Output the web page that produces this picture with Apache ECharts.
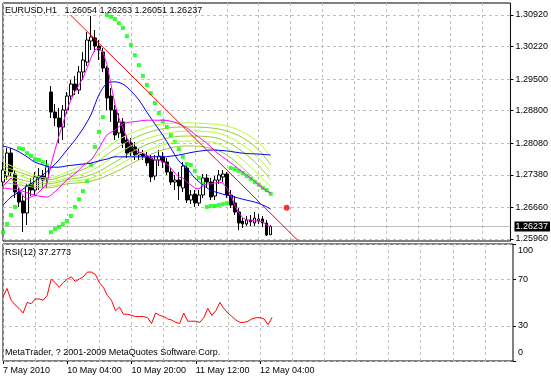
<!DOCTYPE html>
<html>
<head>
<meta charset="utf-8">
<script src="https://cdn.jsdelivr.net/npm/echarts@6/dist/echarts.min.js"></script>
<style>
  html, body { margin: 0; padding: 0; background: #fff; }
  #chart { width: 551px; height: 378px; }
</style>
</head>
<body>
<div id="chart"></div>
<script>
// EURUSD H1, 7 May 12:00 .. 12 May 07:00 (2010)
const symbolName = 'EURUSD,H1';
const lastOhlc = ['1.26054', '1.26263', '1.26051', '1.26237'];
const slotCount = 128; // bars + right-side shift
const timeLabels = ['7 May 2010', '10 May 04:00', '10 May 20:00', '11 May 12:00', '12 May 04:00'];
const priceTicks = ['1.25960', '1.26660', '1.27380', '1.28080', '1.28800', '1.29500', '1.30220', '1.30920'];
const rsiTicks = [0, 30, 70, 100];
const bidPrice = 1.26237;
const rsiTitle = 'RSI(12) 37.2773';
const copyright = 'MetaTrader, ? 2001-2009 MetaQuotes Software Corp.';

// open, close, low, high
const candles = [
  [1.27222,1.27488,1.27133,1.27665],[1.27355,1.27864,1.27266,1.27975],[1.27864,1.27443,1.27333,1.27975],
  [1.27399,1.27001,1.26868,1.27488],[1.27001,1.26779,1.26668,1.27089],[1.26801,1.26536,1.26115,1.26934],
  [1.26536,1.27133,1.26270,1.27178],[1.27178,1.27045,1.26912,1.27311],[1.27045,1.27333,1.26912,1.27443],
  [1.27311,1.27355,1.27045,1.27532],[1.27355,1.27266,1.27089,1.27488],[1.27311,1.27576,1.27089,1.27709],
  [1.29215,1.28772,1.28639,1.29348],[1.28772,1.28639,1.28462,1.28949],[1.28639,1.28440,1.28086,1.28861],
  [1.28440,1.28816,1.28152,1.28927],[1.28816,1.29126,1.28728,1.29215],[1.29126,1.29392,1.29038,1.29481],
  [1.29392,1.29259,1.29148,1.29569],[1.29259,1.29658,1.29171,1.29791],[1.29658,1.29923,1.29481,1.30101],
  [1.29879,1.30366,1.29791,1.30543],[1.30344,1.30433,1.30145,1.30898],[1.30411,1.30233,1.30101,1.30588],
  [1.30233,1.30145,1.29923,1.30366],[1.30101,1.29746,1.29658,1.30189],[1.29746,1.29082,1.28816,1.29791],
  [1.29126,1.28816,1.28551,1.29303],[1.28816,1.28263,1.28152,1.28927],[1.28307,1.28551,1.28196,1.28750],
  [1.28551,1.28086,1.27975,1.28639],[1.28152,1.27864,1.27753,1.28263],[1.28086,1.27886,1.27798,1.28196],
  [1.27997,1.27820,1.27709,1.28108],[1.27820,1.27864,1.27709,1.27975],[1.27842,1.27798,1.27709,1.27931],
  [1.27798,1.27643,1.27576,1.27886],[1.27753,1.27333,1.27222,1.27820],[1.27355,1.27709,1.27266,1.27820],
  [1.27709,1.27798,1.27576,1.27931],[1.27775,1.27665,1.27532,1.27886],[1.27665,1.27443,1.27377,1.27753],
  [1.27443,1.27222,1.27156,1.27532],[1.27222,1.27266,1.27045,1.27377],[1.27266,1.27133,1.26823,1.27443],
  [1.27089,1.27576,1.27001,1.27665],[1.27532,1.26823,1.26757,1.27576],[1.26823,1.26934,1.26735,1.27045],
  [1.26956,1.26757,1.26668,1.27045],[1.26757,1.26934,1.26691,1.27045],[1.26934,1.27311,1.26868,1.27399],
  [1.27311,1.27222,1.27089,1.27399],[1.27222,1.26890,1.26823,1.27311],[1.26912,1.27266,1.26823,1.27355],
  [1.27266,1.27377,1.27178,1.27488],[1.27333,1.27399,1.27222,1.27488],[1.27399,1.26934,1.26868,1.27443],
  [1.26934,1.26713,1.26646,1.27045],[1.26757,1.26558,1.26491,1.26912],[1.26558,1.26314,1.26159,1.26646],
  [1.26358,1.26292,1.26203,1.26425],[1.26292,1.26381,1.26248,1.26469],[1.26381,1.26336,1.26248,1.26491],
  [1.26314,1.26425,1.26248,1.26558],[1.26358,1.26403,1.26292,1.26513],[1.26403,1.26314,1.26226,1.26469],
  [1.26314,1.26048,1.26026,1.26381],[1.26054,1.26237,1.26051,1.26263]
];

const psar = [
  1.2611,1.2629,1.2649,1.2667,1.2797,1.2795,1.2786,1.2780,1.2773,1.2771,1.2766,1.2758,
  1.2611,1.2618,1.2623,1.2629,1.2636,1.2647,1.2667,1.2684,1.2702,1.2724,1.2760,1.2800,1.2833,1.2866,
  1.3092,1.3088,1.3083,1.3074,1.3063,1.3045,1.3026,1.3003,1.2981,1.2957,1.2937,1.2919,1.2897,1.2875,
  1.2857,1.2844,1.2826,1.2811,1.2795,1.2778,1.2762,1.2760,1.2747,1.2731,1.2718,
  1.2667,1.2669,1.2669,1.2671,1.2673,1.2675,
  1.2753,1.2751,1.2747,1.2742,1.2735,1.2729,1.2722,1.2716,1.2709,1.2704,1.2696
];

const maFast = [
  1.2713,1.2722,1.2731,1.2722,1.2709,1.2691,1.2684,1.2689,1.2693,1.2700,1.2709,1.2718,
  1.2760,1.2793,1.2824,1.2851,1.2882,1.2904,1.2922,1.2937,1.2952,1.2974,1.2997,1.3015,1.3019,1.3010,
  1.2983,1.2939,1.2895,1.2864,1.2842,1.2820,1.2802,1.2793,1.2789,1.2786,1.2782,1.2775,1.2771,1.2771,
  1.2767,1.2762,1.2753,1.2742,1.2733,1.2731,1.2722,1.2716,1.2709,1.2707,1.2713,
  1.2718,1.2718,1.2720,1.2722,1.2720,1.2709,1.2693,1.2671,1.2654,1.2643,1.2638,1.2638,1.2636,1.2636,
  1.2634,1.2627,1.2623
];

// [bar, price]
const maSlowMagenta = [
  [0,1.2709],[4,1.2704],[8,1.2693],[11,1.2689],[12,1.2693],[14,1.2709],[16,1.2727],[18,1.2740],
  [20,1.2758],[22,1.2771],[24,1.2797],[26,1.2826],[28,1.2837],[30,1.2851],[32,1.2855],[34,1.2857],
  [36,1.2859],[40,1.2859],[42,1.2857],[44,1.2851],[46,1.2842],[48,1.2828],[50,1.2815],[52,1.2800],
  [54,1.2784],[56,1.2771],[58,1.2758],[60,1.2744],[62,1.2731],[64,1.2716],[66,1.2702],[67,1.2698]
];

const maBlueFast = [
  [0,1.2671],[2,1.2689],[4,1.2700],[6,1.2713],[8,1.2724],[10,1.2738],[12,1.2753],[14,1.2771],
  [16,1.2793],[18,1.2815],[20,1.2840],[22,1.2871],[24,1.2915],[26,1.2941],[28,1.2944],[30,1.2939],
  [32,1.2924],[34,1.2904],[36,1.2877],[38,1.2851],[40,1.2826],[42,1.2797],[44,1.2769],[46,1.2753],
  [48,1.2731],[50,1.2716],[52,1.2704],[54,1.2698],[56,1.2693],[58,1.2689],[60,1.2684],[62,1.2680],
  [64,1.2675],[66,1.2667],[67,1.2662]
];

const maBlueSlow = [
  [0,1.2802],[2,1.2797],[4,1.2789],[6,1.2778],[8,1.2766],[10,1.2760],[12,1.2755],[14,1.2755],
  [16,1.2758],[18,1.2760],[20,1.2762],[22,1.2764],[24,1.2769],[26,1.2773],[28,1.2778],[32,1.2778],
  [36,1.2778],[40,1.2778],[44,1.2782],[48,1.2789],[52,1.2793],[56,1.2791],[60,1.2786],[64,1.2784],
  [67,1.2782]
];

const greenBars = [0, 6, 11, 16, 22, 28, 34, 40, 46, 52, 56, 60, 64, 67];
const green1 = [1.2766,1.2744,1.2731,1.2744,1.2771,1.2811,1.2837,1.2851,1.2853,1.2851,1.2846,1.2833,1.2809,1.2778];
const green2 = [1.2758,1.2738,1.2727,1.2738,1.2758,1.2795,1.2824,1.2840,1.2844,1.2842,1.2835,1.2820,1.2793,1.2760];
const green3 = [1.2749,1.2731,1.2722,1.2731,1.2747,1.2780,1.2811,1.2828,1.2835,1.2833,1.2824,1.2804,1.2775,1.2744];
const green4 = [1.2740,1.2724,1.2718,1.2727,1.2738,1.2766,1.2797,1.2817,1.2824,1.2822,1.2811,1.2789,1.2758,1.2727];
const green5 = [1.2731,1.2718,1.2713,1.2722,1.2731,1.2755,1.2784,1.2804,1.2813,1.2811,1.2797,1.2771,1.2738,1.2711];
const green6 = [1.2722,1.2713,1.2709,1.2718,1.2724,1.2744,1.2771,1.2793,1.2802,1.2797,1.2782,1.2753,1.2720,1.2698];

const trendBars = [17, 74];
const trendPrices = [1.3091, 1.2591];
const signalDot = [71, 1.2665];

const rsi = [
  55,62,52,48,45,41,50,49,53,53,52,56,
  70,67,63,67,70,72,68,70,72,76,76,74,67,63,
  56,52,43,46,40,40,39,38,38,38,37,32,41,39,38,36,35,33,32,41,34,34,34,33,37,
  45,39,43,50,45,41,38,35,33,33,34,36,37,37,36,31,37.2773
];

const FONT = '"Liberation Sans", Arial, sans-serif';
const GRID_LINE = { color: '#C0C0C0', type: [3, 3], width: 1 };
const categories = Array.from({ length: slotCount }, (_, i) => i);
const priceTickValues = priceTicks.map(Number);
const pxPrice = (1.30920 - 1.25960) / 224;
const yMin = 1.25960 - 2 * pxPrice;
const yMax = yMin + 238 * pxPrice;

const labelEvery16 = (i) => i % 16 === 0 && i / 16 < timeLabels.length;
const greenColors = ['#ADFF2F', '#9ACD32', '#ADFF2F', '#9ACD32', '#ADFF2F', '#9ACD32'];
const greens = [green1, green2, green3, green4, green5, green6];

const chart = echarts.init(document.getElementById('chart'), null, { renderer: 'canvas' });

const lineSeries = (name, data, color, extra) => Object.assign({
  name, type: 'line', data, xAxisIndex: 0, yAxisIndex: 0,
  symbol: 'none', silent: true,
  lineStyle: { color, width: 1 }, itemStyle: { color }
}, extra || {});

const option = {
  animation: false,
  backgroundColor: '#fff',
  textStyle: { fontFamily: FONT },
  title: [
    { text: symbolName + '   ' + lastOhlc.join(' '), left: 5, top: 6, padding: 0,
      textStyle: { fontSize: 9, fontWeight: 'normal', color: '#000', fontFamily: FONT } },
    { text: rsiTitle, left: 5, top: 248, padding: 0,
      textStyle: { fontSize: 9, fontWeight: 'normal', color: '#000', fontFamily: FONT } },
    { text: copyright, left: 5, top: 348, padding: 0,
      textStyle: { fontSize: 9, fontWeight: 'normal', color: '#000', fontFamily: FONT } }
  ],
  grid: [
    { left: 3, top: 3, width: 510, height: 238, show: true, borderColor: '#000', borderWidth: 1, backgroundColor: '#fff' },
    { left: 3, top: 244, width: 510, height: 117, show: true, borderColor: '#000', borderWidth: 1, backgroundColor: '#fff' }
  ],
  xAxis: [
    {
      type: 'category', gridIndex: 0, data: categories, boundaryGap: false,
      axisLine: { show: false }, axisTick: { show: false }, axisLabel: { show: false },
      splitLine: { show: true, interval: (i) => i % 8 === 0, lineStyle: GRID_LINE }
    },
    {
      type: 'category', gridIndex: 1, data: categories, boundaryGap: false,
      axisLine: { show: false },
      axisTick: { show: true, interval: labelEvery16, length: 3, lineStyle: { color: '#000' } },
      axisLabel: {
        interval: labelEvery16, align: 'left', margin: 5, fontSize: 9, color: '#000', fontFamily: FONT,
        formatter: (v, i) => timeLabels[Math.round(Number(v) / 16)] || ''
      },
      splitLine: { show: true, interval: (i) => i % 8 === 0, lineStyle: GRID_LINE }
    }
  ],
  yAxis: [
    {
      type: 'value', gridIndex: 0, position: 'right', min: yMin, max: yMax,
      axisLine: { show: false },
      axisTick: { show: true, length: 3, customValues: priceTickValues, lineStyle: { color: '#000' } },
      axisLabel: {
        customValues: priceTickValues, margin: 5, fontSize: 9, color: '#000', fontFamily: FONT,
        formatter: (v) => v.toFixed(5)
      },
      splitLine: { show: true, lineStyle: GRID_LINE }
    },
    {
      type: 'value', gridIndex: 1, position: 'right', min: 0, max: 100,
      axisLine: { show: false },
      axisTick: { show: true, length: 3, customValues: rsiTicks, lineStyle: { color: '#000' } },
      axisLabel: {
        customValues: rsiTicks, margin: 5, fontSize: 9, color: '#000', fontFamily: FONT,
        formatter: (v) => v === 100 ? '{t|100}' : v === 0 ? '{b|0}' : String(v),
        rich: {
          t: { fontSize: 9, color: '#000', fontFamily: FONT, padding: [14, 0, 0, 0] },
          b: { fontSize: 9, color: '#000', fontFamily: FONT, padding: [0, 0, 16, 0] }
        }
      },
      splitLine: { show: true, lineStyle: GRID_LINE }
    }
  ],
  series: [
    // bid line with its price box on the right
    {
      name: 'bid', type: 'line', xAxisIndex: 0, yAxisIndex: 0, silent: true,
      data: [[0, bidPrice], [slotCount - 1, bidPrice]], symbol: 'none', z: 1,
      lineStyle: { color: '#C0C0C0', width: 1 },
      endLabel: {
        show: true, distance: 4, formatter: () => bidPrice.toFixed(5),
        backgroundColor: '#000', color: '#fff', fontSize: 9, fontFamily: FONT, padding: [1, 2, 0, 1]
      }
    },
    {
      name: 'price', type: 'candlestick', xAxisIndex: 0, yAxisIndex: 0,
      data: candles, barWidth: 3, silent: true,
      itemStyle: { color: '#FFFFFF', color0: '#000000', borderColor: '#000000', borderColor0: '#000000', borderWidth: 1 }
    },
    ...greens.map((g, k) => lineSeries('green' + k, greenBars.map((b, j) => [b, g[j]]), greenColors[k], { smooth: 0.4 })),
    lineSeries('blueSlow', maBlueSlow, '#0000FF', { smooth: 0.3 }),
    lineSeries('blueFast', maBlueFast, '#0000FF', { smooth: 0.3 }),
    lineSeries('magentaSlow', maSlowMagenta, '#FF00FF', { smooth: 0.3 }),
    lineSeries('magentaFast', maFast, '#FF00FF'),
    lineSeries('trend', trendBars.map((b, j) => [b, trendPrices[j]]), '#FF0000'),
    {
      name: 'psar', type: 'scatter', xAxisIndex: 0, yAxisIndex: 0, silent: true,
      data: psar.map((v, i) => [i, v]), symbol: 'rect', symbolSize: 4,
      itemStyle: { color: '#00FF00' }
    },
    {
      name: 'signal', type: 'scatter', xAxisIndex: 0, yAxisIndex: 0, silent: true,
      data: [signalDot], symbol: 'circle', symbolSize: 6,
      itemStyle: { color: '#FF0000' }
    },
    {
      name: 'rsi', type: 'line', xAxisIndex: 1, yAxisIndex: 1, silent: true,
      data: rsi, symbol: 'none',
      lineStyle: { color: '#FF0000', width: 1 }
    }
  ]
};

chart.setOption(option);
</script>
</body>
</html>
